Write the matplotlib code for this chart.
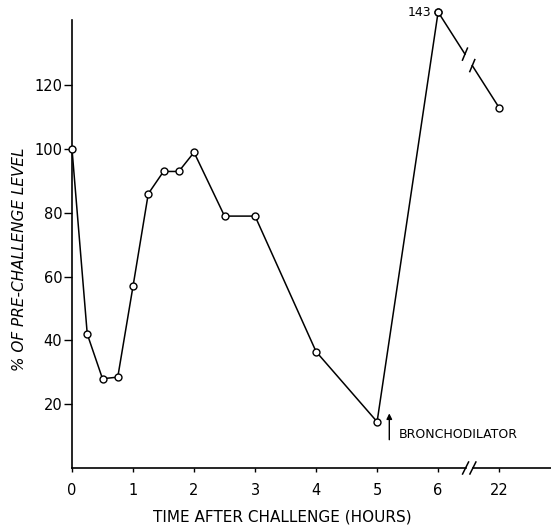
import matplotlib
matplotlib.use("Agg")
import matplotlib.pyplot as plt
import numpy as np

# time after challenge (hours) and % of pre-challenge level
hours = [0, 0.25, 0.5, 0.75, 1, 1.25, 1.5, 1.75, 2, 2.5, 3, 4, 5, 6, 22]
pct = [100, 42, 28, 28.5, 57, 86, 93, 93, 99, 79, 79, 36.5, 14.5, 143, 113]

tick_hours = [0, 1, 2, 3, 4, 5, 6, 22]
yticks = [20, 40, 60, 80, 100, 120]


def axis_pos(h):
    # broken axis: 22 h is drawn one step after 6 h
    return h if h <= 6 else 7


xpos = [axis_pos(h) for h in hours]

plt.rcParams["font.family"] = ["DejaVu Sans"]
fig = plt.figure(figsize=(5.51, 5.28), dpi=100)
ax = fig.add_axes([72 / 551, 1 - 468 / 528, 1 - 72 / 551, (468 - 20) / 528])
ax.set_xlim(0, 7.85)
ax.set_ylim(0, 140.5)

lw = 1.1
mk = dict(marker="o", markersize=5, markerfacecolor="white",
          markeredgecolor="black", markeredgewidth=1.0)

# main line up to 6 h
ax.plot(xpos[:-1], pct[:-1], color="black", lw=lw, clip_on=False, zorder=3, **mk)

# 6 h -> 22 h segment with a break in the middle
x0, y0 = xpos[-2], pct[-2]
x1, y1 = xpos[-1], pct[-1]
g = 0.06
xa, ya = x0 + (x1 - x0) * (0.5 - g), y0 + (y1 - y0) * (0.5 - g)
xb, yb = x0 + (x1 - x0) * (0.5 + g), y0 + (y1 - y0) * (0.5 + g)
ax.plot([x0, xa], [y0, ya], color="black", lw=lw, clip_on=False, zorder=2)
ax.plot([xb, x1], [yb, y1], color="black", lw=lw, clip_on=False, zorder=2)
ax.plot([x1], [y1], color="black", lw=0, clip_on=False, zorder=3, **mk)
ax.plot([x0], [y0], color="black", lw=0, clip_on=False, zorder=4, **mk)

# break marks on the line
for bx, by in ((xa, ya), (xb, yb)):
    px, py = ax.transData.transform((bx, by))
    p1 = ax.transData.inverted().transform((px - 2.5, py - 6))
    p2 = ax.transData.inverted().transform((px + 2.5, py + 6))
    ax.plot([p1[0], p2[0]], [p1[1], p2[1]], color="black", lw=lw, clip_on=False)

# x axis with break between 6 and 22
ax.spines["bottom"].set_visible(False)
ax.spines["top"].set_visible(False)
ax.spines["right"].set_visible(False)
ax.spines["left"].set_linewidth(1.2)
trans = ax.get_xaxis_transform()
ax.plot([0, 6.45], [0, 0], color="black", lw=1.2, transform=trans, clip_on=False)
ax.plot([6.57, 7.85], [0, 0], color="black", lw=1.2, transform=trans, clip_on=False)
for bx in (6.45, 6.57):
    px, py = ax.transData.transform((bx, 0))
    p1 = ax.transData.inverted().transform((px - 3, py - 6))
    p2 = ax.transData.inverted().transform((px + 3, py + 6))
    ax.plot([p1[0], p2[0]], [p1[1], p2[1]], color="black", lw=1.1, clip_on=False)

ax.set_xticks([axis_pos(h) for h in tick_hours])
ax.set_xticklabels([str(h) for h in tick_hours])
ax.set_yticks(yticks)
ax.set_yticklabels([str(v) for v in yticks])
ax.tick_params(axis="x", direction="out", length=3, width=1, pad=8, labelsize=10.5)
ax.tick_params(axis="y", direction="out", length=6, width=1, pad=1, labelsize=10.5)

ax.annotate("143", xy=(xpos[-2], pct[-2]), xytext=(-5, 0), textcoords="offset points",
            ha="right", va="center", fontsize=9, annotation_clip=False)

ax.annotate("", xy=(5.2, 18), xytext=(5.2, 8),
            arrowprops=dict(arrowstyle="-|>", color="black", lw=1.0, mutation_scale=8))
ax.text(5.35, 10.5, "BRONCHODILATOR", fontsize=9, ha="left", va="center")

fig.text(282 / 551, 1 - 517 / 528, "TIME AFTER CHALLENGE (HOURS)", ha="center",
         va="center", fontsize=11)
fig.text(20 / 551, 1 - 259 / 528, "% OF PRE-CHALLENGE LEVEL", rotation=90,
         ha="center", va="center", fontsize=11, style="italic")

fig.savefig("out.png", dpi=100)
